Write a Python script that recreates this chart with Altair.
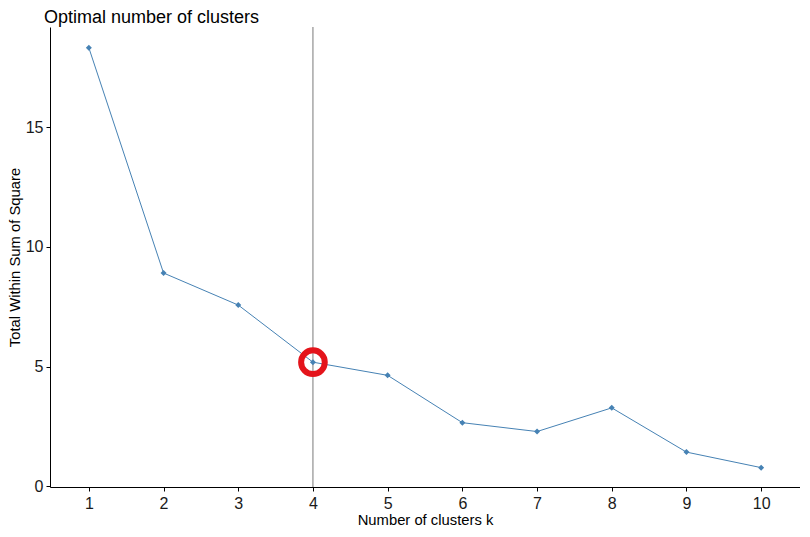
import altair as alt
import pandas as pd

# Data
ks = [1, 2, 3, 4, 5, 6, 7, 8, 9, 10]
wss = [18.33, 8.91, 7.57, 5.18, 4.63, 2.65, 2.28, 3.27, 1.42, 0.77]
optimal_k = [4]
optimal_wss = [5.18]
x_ticks = [1, 2, 3, 4, 5, 6, 7, 8, 9, 10]
y_ticks = [0, 5, 10, 15]

df = pd.DataFrame({"k": ks, "wss": wss})
df_opt = pd.DataFrame({"k": optimal_k, "wss": optimal_wss})

FONT = "Liberation Sans"
BLUE = "#4682B4"
W, H = 750, 460

x_scale = alt.Scale(domain=[0.48, 10.52], nice=False, zero=False)
y_scale = alt.Scale(domain=[-0.04, 19.2], nice=False, zero=False)

x_axis = alt.Axis(
    title="Number of clusters k", values=x_ticks, grid=False, format="d",
    domainColor="black", domainWidth=1, tickColor="black", tickSize=4,
    labelFontSize=16, labelColor="#1a1a1a", labelPadding=4, labelFont=FONT,
    titleFontSize=14.8, titleFontWeight="normal", titleColor="black",
    titleFont=FONT, titlePadding=1, labelFlush=False,
)
y_axis = alt.Axis(
    title="Total Within Sum of Square", values=y_ticks, grid=False, format="d",
    domainColor="black", domainWidth=1, tickColor="black", tickSize=4,
    labelFontSize=16, labelColor="#1a1a1a", labelPadding=3, labelFont=FONT,
    titleFontSize=14.8, titleFontWeight="normal", titleColor="black",
    titleFont=FONT, titleX=-34.5, titleY=H / 2, titleBaseline="middle",
    labelFlush=False,
)

line = alt.Chart(df).mark_line(color=BLUE, strokeWidth=1).encode(
    x=alt.X("k:Q", scale=x_scale, axis=x_axis),
    y=alt.Y("wss:Q", scale=y_scale, axis=y_axis),
)

points = alt.Chart(df).mark_point(
    shape="diamond", filled=True, color=BLUE, size=36, opacity=1
).encode(
    x=alt.X("k:Q", scale=x_scale),
    y=alt.Y("wss:Q", scale=y_scale),
)

vline = alt.Chart(df_opt).mark_rule(color="#7a7a7a", strokeWidth=1).encode(
    x=alt.X("k:Q", scale=x_scale),
)

ring = alt.Chart(df_opt).mark_point(
    shape="circle", filled=False, stroke="#e4141b", strokeWidth=6,
    size=560, opacity=1
).encode(
    x=alt.X("k:Q", scale=x_scale),
    y=alt.Y("wss:Q", scale=y_scale),
)

chart = alt.layer(vline, line, points, ring).properties(
    width=W,
    height=H,
    background="white",
    padding={"left": 42, "top": 19, "right": 0, "bottom": 42},
    autosize=alt.AutoSizeParams(type="none"),
    title=alt.TitleParams(
        text="Optimal number of clusters", anchor="start", frame="group",
        font=FONT, fontSize=18, fontWeight="normal", color="black",
        offset=0, dx=-6,
    ),
).configure_view(strokeWidth=0)

chart.save("out.html", embed_options={"renderer": "svg", "actions": False})
